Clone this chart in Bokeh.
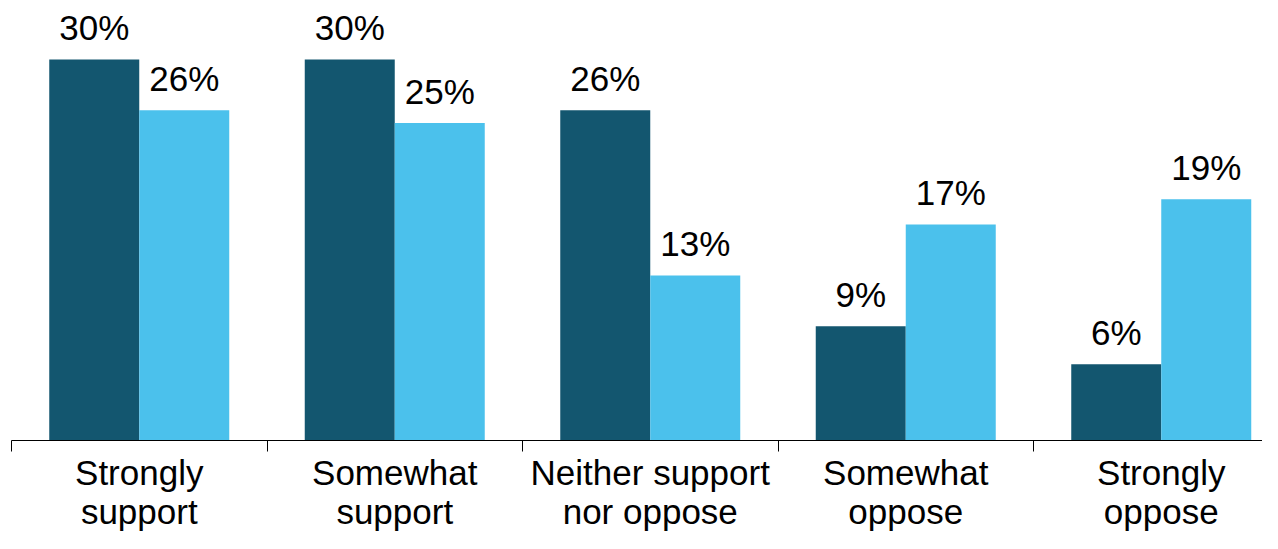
from bokeh.plotting import figure
from bokeh.models import ColumnDataSource, FixedTicker, Range1d
from bokeh.transform import dodge
from bokeh.core.properties import value
from bokeh.embed import file_html
from bokeh.resources import INLINE

categories = ["Strongly\nsupport", "Somewhat\nsupport", "Neither support\nnor oppose",
              "Somewhat\noppose", "Strongly\noppose"]
series_a = [30, 30, 26, 9, 6]
series_b = [26, 25, 13, 17, 19]

dark = "#13566f"
light = "#4bc1ec"
FONT = "Liberation Sans"

xs = list(range(len(categories)))
src = ColumnDataSource(dict(
    x=xs,
    a=series_a,
    b=series_b,
    la=[f"{v}%" for v in series_a],
    lb=[f"{v}%" for v in series_b],
))

W, H = 1262, 533
left = 11
cat_px = 255.5
frame_h = 440
px_per_unit = 12.7
p = figure(width=W, height=H, output_backend="svg", toolbar_location=None,
           x_range=Range1d(-0.5, -0.5 + (W - left) / cat_px),
           y_range=Range1d(0, frame_h / px_per_unit))
p.min_border_left = left
p.min_border_right = 0
p.min_border_top = 0
p.min_border_bottom = H - frame_h
p.outline_line_color = None
p.background_fill_color = "white"
p.border_fill_color = "white"
p.xgrid.visible = False
p.ygrid.visible = False
p.yaxis.visible = False

bw = 90 / cat_px
off = bw / 2
p.vbar(x=dodge("x", -off), top="a", width=bw, bottom=0, source=src,
       fill_color=dark, line_color=None)
p.vbar(x=dodge("x", off), top="b", width=bw, bottom=0, source=src,
       fill_color=light, line_color=None)

for col, lab, d in (("a", "la", -off), ("b", "lb", off)):
    p.text(x=dodge("x", d), y=col, text=lab, source=src,
           text_align="center", text_baseline="alphabetic", y_offset=-32,
           text_font=value(FONT), text_font_size="35px", text_color="black")

ax = p.xaxis[0]
ax.ticker = FixedTicker(ticks=xs, minor_ticks=[i - 0.5 for i in range(len(categories) + 1)])
ax.major_label_overrides = {i: c for i, c in enumerate(categories)}
ax.major_tick_line_color = None
ax.major_tick_out = 0
ax.major_tick_in = 0
ax.minor_tick_line_color = "black"
ax.minor_tick_out = 11
ax.minor_tick_in = 0
ax.axis_line_color = "black"
ax.axis_line_width = 1
ax.major_label_text_font = FONT
ax.major_label_text_font_size = "35px"
ax.major_label_text_line_height = 1.0
ax.major_label_text_color = "black"
ax.major_label_standoff = 1

open("out.html", "w").write(file_html(p, INLINE))
